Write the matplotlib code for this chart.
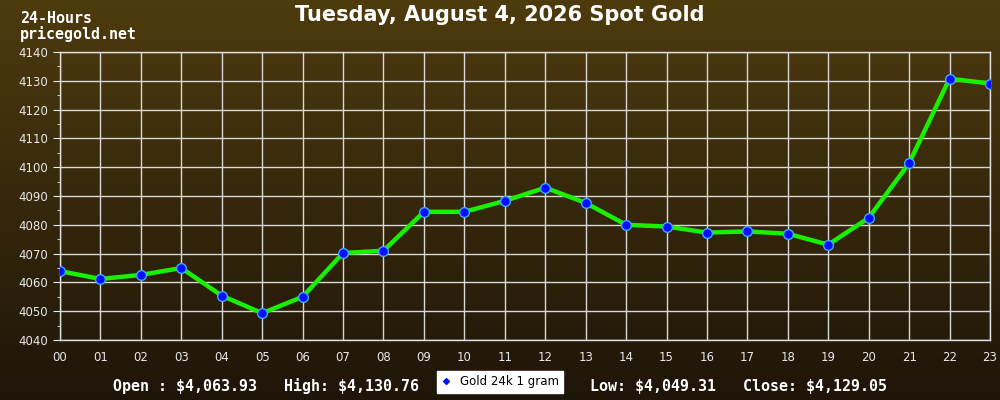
import numpy as np
import matplotlib
matplotlib.use("Agg")
import matplotlib.pyplot as plt
from matplotlib.lines import Line2D
from matplotlib.colors import LinearSegmentedColormap

plt.rcParams["text.parse_math"] = False

# dados
horas = ["00", "01", "02", "03", "04", "05", "06", "07", "08", "09", "10", "11",
         "12", "13", "14", "15", "16", "17", "18", "19", "20", "21", "22", "23"]
precos = [4063.93, 4061.2, 4062.6, 4065.0, 4055.4, 4049.31, 4055.0, 4070.2,
          4071.0, 4084.5, 4084.5, 4088.3, 4092.9, 4087.6, 4080.0, 4079.4,
          4077.3, 4077.7, 4076.9, 4073.1, 4082.4, 4101.4, 4130.76, 4129.05]
y_ticks = [4040, 4050, 4060, 4070, 4080, 4090, 4100, 4110, 4120, 4130, 4140]

titulo = "Tuesday, August 4, 2026 Spot Gold"
texto_esq = "Open : $4,063.93   High: $4,130.76"
texto_dir = "Low: $4,049.31   Close: $4,129.05"
legenda = "Gold 24k 1 gram"

fig = plt.figure(figsize=(10, 4), dpi=100)

# fundo em degrade
bg = fig.add_axes([0, 0, 1, 1], zorder=-1)
grad = np.linspace(0, 1, 256).reshape(-1, 1)
cmap = LinearSegmentedColormap.from_list("fundo", ["#4e3b0e", "#1e1509"])
bg.imshow(grad, aspect="auto", cmap=cmap, extent=[0, 1, 0, 1])
bg.axis("off")

ax = fig.add_axes([0.06, 0.15, 0.93, 0.72])
ax.patch.set_alpha(0)
x = np.arange(len(horas))
ax.plot(x, precos, color="#19f000", lw=3.2, zorder=3)
ax.plot(x, precos, ls="none", marker="o", ms=7, mfc="#0010ff",
        mec="#3fa9ff", mew=1, zorder=4)

ax.set_xlim(0, 23)
ax.set_ylim(4040, 4140)
ax.set_xticks(x)
ax.set_xticklabels(horas)
ax.set_yticks(y_ticks)
ax.set_yticks(np.arange(4045, 4140, 10), minor=True)
ax.grid(True, color="#d8d8d8", lw=1)
ax.tick_params(axis="x", length=0, pad=8, colors="#e8e8e8", labelsize=8.5)
ax.tick_params(axis="y", which="major", length=5, colors="#e8e8e8", labelsize=8.5)
ax.tick_params(axis="y", which="minor", length=2.5, color="#e8e8e8")
for s in ax.spines.values():
    s.set_color("#e0e0e0")
    s.set_linewidth(1)

fig.text(0.5, 0.963, titulo, ha="center", va="center", color="white",
         fontsize=15, fontweight="bold")
fig.text(0.02, 0.953, "24-Hours", ha="left", va="center", color="white",
         family="DejaVu Sans Mono", fontsize=10.8, fontweight="bold")
fig.text(0.02, 0.915, "pricegold.net", ha="left", va="center", color="white",
         family="DejaVu Sans Mono", fontsize=10.8, fontweight="bold")
fig.text(0.113, 0.035, texto_esq, ha="left", va="center", color="white",
         family="DejaVu Sans Mono", fontsize=10.8, fontweight="bold")
fig.text(0.59, 0.035, texto_dir, ha="left", va="center", color="white",
         family="DejaVu Sans Mono", fontsize=10.8, fontweight="bold")

proxy = Line2D([], [], ls="none", marker="D", ms=3, mfc="#0010ff", mec="#0010ff")
leg = ax.legend([proxy], [legenda], loc="center", bbox_to_anchor=(0.5, 0.045),
                bbox_transform=fig.transFigure, frameon=True, fancybox=False,
                framealpha=1, edgecolor="white", facecolor="white",
                fontsize=8.5, handlelength=0.8, handletextpad=0.8,
                borderpad=0.35, borderaxespad=0)

fig.savefig("out.png", dpi=100)
